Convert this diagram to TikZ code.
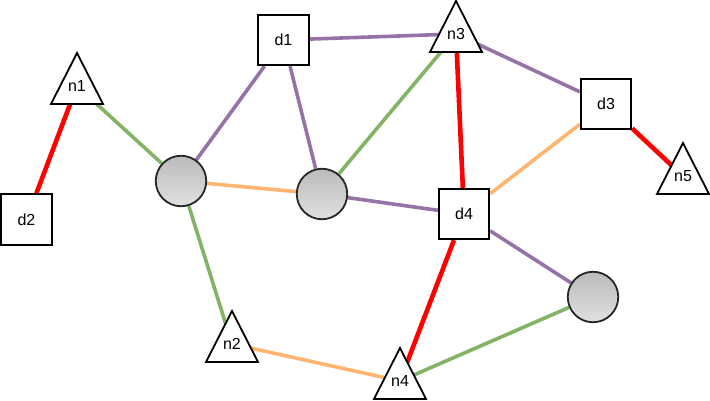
\documentclass[tikz,border=0pt]{standalone}
\usepackage{fontspec}
\setmainfont{Liberation Sans}
\usetikzlibrary{backgrounds}
\definecolor{linkred}{HTML}{FF0000}
\definecolor{linkgreen}{HTML}{82B366}
\definecolor{linkpurple}{HTML}{9673A6}
\definecolor{linkorange}{HTML}{FFB570}
\tikzset{
  box/.style={draw,fill=white,line width=1.8pt,minimum size=50.5pt,inner sep=0pt},
  ball/.style={circle,draw=black!85,line width=1.8pt,minimum size=50.5pt,inner sep=0pt,
    top color=black!27,bottom color=black!12},
  lbl/.style={inner sep=0pt},
  tribox/.style={draw,fill=white,line width=1.8pt},
  link/.style={line width=3.6pt},
  redlink/.style={line width=4.6pt,linkred},
}
\begin{document}
\begin{tikzpicture}[x=1pt,y=-1pt,font=\fontsize{16}{18}\selectfont]
\useasboundingbox (0,0) rectangle (710,401);
% squares
\node[box] (d1) at (283.5,40) {d1};
\node[box] (d2) at (26.5,219.5) {d2};
\node[box] (d3) at (606,104) {d3};
\node[box] (d4) at (464,214) {d4};
% circles
\node[ball] (c1) at (181,181) {};
\node[ball] (c2) at (322,194) {};
\node[ball] (c3) at (593,297) {};
% triangle labels
\node[lbl] (n1) at (77,86) {n1};
\node[lbl] (n2) at (232,344) {n2};
\node[lbl] (n3) at (456,34) {n3};
\node[lbl] (n4) at (400,381) {n4};
\node[lbl] (n5) at (683,176) {n5};
\begin{pgfonlayer}{background}
  \draw[redlink] (n1) -- (d2);
  \draw[redlink] (n3) -- (d4);
  \draw[redlink] (d3) -- (n5);
  \draw[redlink] (d4) -- (n4);
  \draw[link,linkgreen] (n1) -- (c1);
  \draw[link,linkgreen] (c1) -- (n2);
  \draw[link,linkgreen] (n3) -- (c2);
  \draw[link,linkgreen] (n4) -- (c3);
  \draw[link,linkpurple] (c1) -- (d1);
  \draw[link,linkpurple] (d1) -- (c2);
  \draw[link,linkpurple] (d1) -- (n3);
  \draw[link,linkpurple] (n3) -- (d3);
  \draw[link,linkpurple] (c2) -- (d4);
  \draw[link,linkpurple] (d4) -- (c3);
  \draw[link,linkorange] (c1) -- (c2);
  \draw[link,linkorange] (d3) -- (d4);
  \draw[link,linkorange] (n2) -- (n4);
  % triangles over the links, under the labels
  \foreach \t in {n1,n2,n3,n4,n5}
    \draw[tribox] ([yshift=33pt]\t.center) -- ([xshift=26pt,yshift=-18pt]\t.center)
      -- ([xshift=-26pt,yshift=-18pt]\t.center) -- cycle;
\end{pgfonlayer}
\end{tikzpicture}
\end{document}
